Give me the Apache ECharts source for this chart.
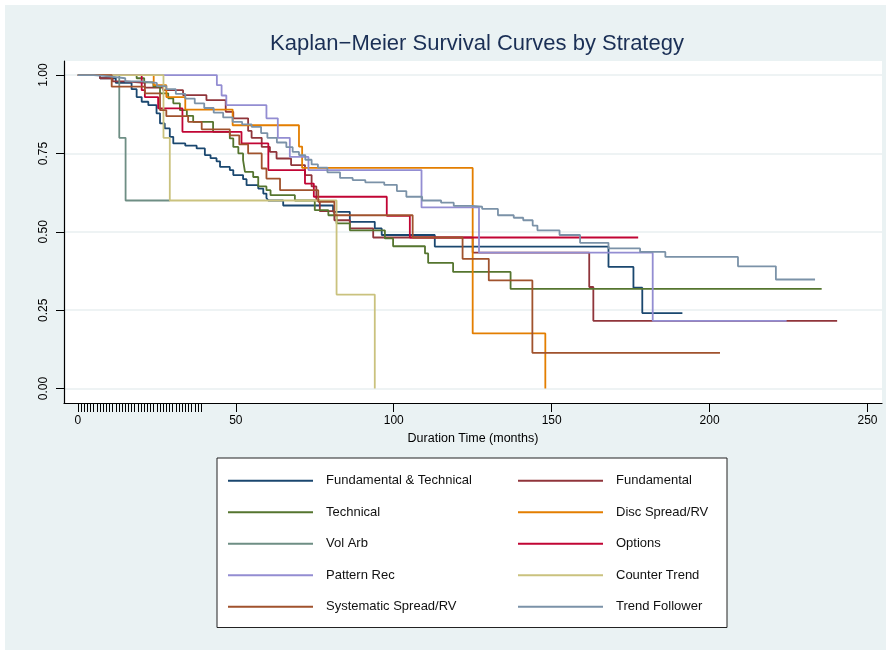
<!DOCTYPE html>
<html>
<head>
<meta charset="utf-8">
<script src="https://cdn.jsdelivr.net/npm/echarts@6/dist/echarts.min.js"></script>
<style>
html, body { margin: 0; padding: 0; background: #fff; }
#chart { position: absolute; left: 5px; top: 5px; width: 881px; height: 645px; }
</style>
</head>
<body>
<div id="chart"></div>
<script>
// tick positions
var xTicks = [0, 50, 100, 150, 200, 250];
var rugTicks = [0, 1, 2, 3, 4, 5, 6, 7, 8, 9, 10, 11, 12, 13, 14, 15, 16, 17, 18, 19,
  20, 21, 22, 23, 24, 25, 26, 27, 28, 29, 30, 31, 32, 33, 34, 35, 36, 37, 38, 39];
var yTicks = [0, 0.25, 0.5, 0.75, 1];

var names = ['Fundamental & Technical', 'Fundamental', 'Technical', 'Disc Spread/RV', 'Vol Arb',
  'Options', 'Pattern Rec', 'Counter Trend', 'Systematic Spread/RV', 'Trend Follower'];
var colors = ['#1a476f', '#90353b', '#55752f', '#e37e00', '#6e8e84',
  '#c10534', '#938dd2', '#cac27e', '#a0522d', '#7b92a8'];

// [months, survival] - value after each drop, last point = end of follow-up
var fundTech = [[0, 1], [7, 0.99], [12, 0.975], [17, 0.955], [18.6, 0.93], [20.2, 0.915], [22.3, 0.904],
  [24.9, 0.878], [26, 0.846], [27.5, 0.83], [29.1, 0.803], [30.2, 0.782], [34, 0.775], [37.6, 0.766],
  [40.2, 0.745], [42, 0.735], [43.9, 0.725], [45, 0.707], [48.1, 0.697], [49.2, 0.681], [52.3, 0.668],
  [53.4, 0.649], [57.1, 0.638], [58.7, 0.622], [59.7, 0.608], [60.3, 0.6], [65, 0.584], [80.8, 0.564],
  [86.1, 0.532], [94, 0.511], [96.2, 0.49], [113, 0.453], [168, 0.388], [175.9, 0.322], [178.7, 0.241],
  [191.4, 0.241]];
var fundamental = [[0, 1], [7, 0.99], [11, 0.98], [15, 0.975], [21.2, 0.96], [27, 0.952], [33.3, 0.936],
  [40.7, 0.92], [46.8, 0.883], [49.2, 0.862], [53.9, 0.822], [55, 0.8], [58.2, 0.771], [60.8, 0.755],
  [62.9, 0.734], [67.5, 0.713], [71.9, 0.681], [74, 0.645], [75.5, 0.6], [76.6, 0.566], [81.2, 0.537],
  [86.1, 0.511], [93.5, 0.482], [125, 0.434], [161.9, 0.324], [163.2, 0.216], [240.4, 0.216]];
var technical = [[0, 1], [18.6, 0.99], [21, 0.977], [23.9, 0.963], [26, 0.942], [28.6, 0.926], [30.2, 0.91],
  [32.3, 0.888], [34.5, 0.87], [36.5, 0.851], [42.8, 0.819], [48.1, 0.798], [49.2, 0.771], [50.8, 0.75],
  [52.3, 0.729], [52.9, 0.691], [55.5, 0.675], [57.1, 0.645], [59.7, 0.633], [61, 0.617], [68.7, 0.6],
  [75, 0.569], [79.3, 0.553], [81.9, 0.527], [86.1, 0.505], [97.2, 0.479], [99.8, 0.454], [109.9, 0.431],
  [110.9, 0.401], [118.8, 0.372], [137, 0.318], [235.5, 0.318]];
var discSpread = [[0, 1], [24, 0.968], [28, 0.93], [34, 0.89], [49, 0.84], [70, 0.772], [71, 0.704],
  [125, 0.176], [148, 0]];
var volArb = [[0, 1], [13.1, 0.8], [15.1, 0.6], [29.1, 0.6]];
var options = [[0, 1], [20.2, 0.952], [21.2, 0.93], [25.4, 0.894], [33.1, 0.819], [51.8, 0.782],
  [60.3, 0.697], [71.9, 0.654], [74.7, 0.612], [97.8, 0.551], [105.1, 0.482], [177.4, 0.482]];
var patternRec = [[0, 1], [44, 0.968], [45.5, 0.935], [47, 0.904], [59.7, 0.862], [63.3, 0.8], [67.1, 0.739],
  [73, 0.697], [108.8, 0.578], [127, 0.434], [182, 0.216], [224.4, 0.216]];
var counterTrend = [[0, 1], [27.1, 0.8], [29.1, 0.6], [81.9, 0.3], [94, 0]];
var sysSpread = [[0, 1], [10.7, 0.963], [21.2, 0.942], [26, 0.888], [28, 0.869], [34.9, 0.851], [39.2, 0.827],
  [48.1, 0.808], [51.1, 0.779], [53.9, 0.75], [58.2, 0.702], [59.7, 0.67], [64, 0.633], [76.1, 0.596],
  [81.2, 0.553], [106, 0.482], [121.8, 0.414], [130.1, 0.345], [143.9, 0.114], [203.3, 0.114]];
var trendFollower = [[0, 1], [5, 0.996], [10, 0.99], [15, 0.98], [20, 0.975], [25, 0.965], [28, 0.955],
  [31, 0.94], [34, 0.925], [37, 0.91], [40, 0.895], [43, 0.88], [46, 0.865], [49, 0.851], [52, 0.843],
  [55, 0.835], [58, 0.815], [60, 0.8], [63, 0.785], [66, 0.77], [68, 0.755], [70, 0.745], [72, 0.73],
  [74, 0.715], [76, 0.705], [79, 0.69], [83, 0.672], [87, 0.665], [91, 0.658], [97, 0.65], [101, 0.63],
  [104, 0.612], [109, 0.6], [115, 0.593], [119, 0.583], [125, 0.58], [128, 0.573], [133, 0.553],
  [138, 0.545], [141, 0.537], [144, 0.52], [145.5, 0.505], [152.5, 0.49], [159, 0.465], [168, 0.447],
  [178, 0.436], [186, 0.42], [209, 0.39], [221, 0.348], [233.4, 0.348]];

var curves = [fundTech, fundamental, technical, discSpread, volArb,
  options, patternRec, counterTrend, sysSpread, trendFollower];

var font = 'Liberation Sans, Arial, sans-serif';
var chart = echarts.init(document.getElementById('chart'));

var series = curves.map(function (d, i) {
  return {
    name: names[i],
    type: 'line',
    step: 'end',
    symbol: 'none',
    data: d,
    color: colors[i],
    lineStyle: { width: 1.8, color: colors[i] }
  };
});

// legend: left column wider text box so second column lines up
var legendData = names.map(function (n, i) {
  return { name: n, textStyle: { width: i % 2 === 0 ? 182 : 100 } };
});

chart.setOption({
  backgroundColor: '#eaf2f3',
  animation: false,
  textStyle: { fontFamily: font },
  title: {
    text: 'Kaplan\u2212Meier Survival Curves by Strategy',
    left: 467,
    textAlign: 'center',
    top: 23,
    textStyle: { fontSize: 22, fontWeight: 'normal', color: '#1a2f55', fontFamily: font }
  },
  grid: {
    left: 59, top: 56, width: 818, height: 342,
    show: true, backgroundColor: '#fff', borderWidth: 0
  },
  legend: {
    left: 212, top: 453, width: 505,
    padding: [12, 11, 10, 11],
    backgroundColor: '#fff',
    borderColor: '#222',
    borderWidth: 1,
    icon: 'rect',
    itemWidth: 85,
    itemHeight: 2,
    itemGap: 10,
    data: legendData,
    textStyle: { fontSize: 13, color: '#111', lineHeight: 21.5, padding: [0, 0, 0, 8], fontFamily: font }
  },
  xAxis: [{
    type: 'value',
    position: 'bottom',
    min: -4.4, max: 254.6,
    name: 'Duration Time (months)',
    nameLocation: 'middle',
    nameGap: 28,
    nameTextStyle: { fontSize: 12.5, color: '#000', fontFamily: font },
    axisLine: { show: true, onZero: false, lineStyle: { color: '#000', width: 1.2 } },
    axisTick: { show: true, customValues: xTicks, length: 9, lineStyle: { color: '#000' } },
    axisLabel: { customValues: xTicks, fontSize: 12, color: '#000', margin: 12, fontFamily: font },
    splitLine: { show: false }
  }, {
    type: 'value',
    position: 'bottom',
    min: -4.4, max: 254.6,
    axisLine: { show: false, onZero: false },
    axisTick: { show: true, customValues: rugTicks, length: 9, lineStyle: { color: '#000' } },
    axisLabel: { show: false },
    splitLine: { show: false }
  }],
  yAxis: {
    type: 'value',
    min: -0.046, max: 1.045,
    axisLine: { show: true, onZero: false, lineStyle: { color: '#000', width: 1.2 } },
    axisTick: { show: true, customValues: yTicks, length: 8, lineStyle: { color: '#000' } },
    axisLabel: {
      customValues: yTicks, rotate: 90, fontSize: 12, color: '#000', margin: 14, fontFamily: font,
      formatter: function (v) { return v.toFixed(2); }
    },
    splitLine: { show: true, lineStyle: { color: '#e8eff1', width: 1.5 } }
  },
  series: series
});
</script>
</body>
</html>
